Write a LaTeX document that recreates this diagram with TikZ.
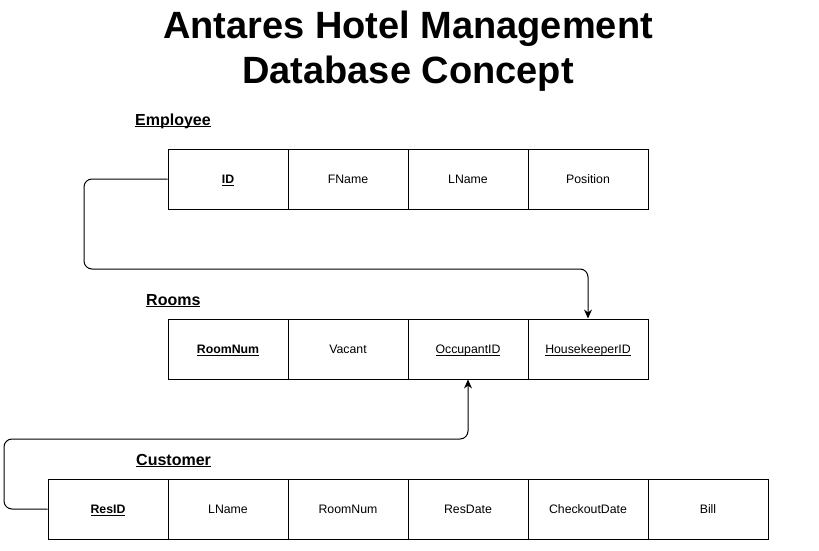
\documentclass[tikz,border=0pt]{standalone}
\usepackage{fontspec}
\setmainfont{Liberation Sans}
\usetikzlibrary{arrows.meta}

% underline that keeps the text on its baseline
\newcommand{\ulined}[1]{\smash{\underline{\smash{#1}}}\vphantom{#1}}

\tikzset{
  field/.style={draw, line width=1pt, minimum width=120pt, minimum height=60pt,
    inner sep=0pt, text height=10pt, text depth=1pt, font=\fontsize{12.3}{14}\selectfont},
  tablename/.style={anchor=base west, inner sep=0pt, font=\fontsize{16}{19}\selectfont\bfseries},
  link/.style={line width=1pt, rounded corners=8pt, -{Stealth[length=9pt,width=8pt]}}
}

\begin{document}
\begin{tikzpicture}[x=1pt, y=-1pt]

\useasboundingbox (0,0) rectangle (819,551);

\node [align=center, font=\fontsize{38}{45}\selectfont\bfseries] (title) at (408,51)
  {Antares Hotel Management\\Database Concept};

% Employee
\node [tablename] (employee) at (135,125) {\ulined{Employee}};
\node [field] (empid) at (228,179) {\textbf{\ulined{ID}}};
\node [field] (empfname) at (348,179) {FName};
\node [field] (emplname) at (468,179) {LName};
\node [field] (emppos) at (588,179) {Position};

% Rooms
\node [tablename] (rooms) at (146,305) {\ulined{Rooms}};
\node [field] (roomnum) at (228,349) {\textbf{\ulined{RoomNum}}};
\node [field] (roomvac) at (348,349) {Vacant};
\node [field] (roomocc) at (468,349) {\ulined{OccupantID}};
\node [field] (roomhk) at (588,349) {\ulined{HousekeeperID}};

% Customer
\node [tablename] (customer) at (136,465) {\ulined{Customer}};
\node [field] (custid) at (108,509) {\textbf{\ulined{ResID}}};
\node [field] (custlname) at (228,509) {LName};
\node [field] (custroom) at (348,509) {RoomNum};
\node [field] (custres) at (468,509) {ResDate};
\node [field] (custout) at (588,509) {CheckoutDate};
\node [field] (custbill) at (708,509) {Bill};

% keys
\coordinate (bendA) at (84,269);
\coordinate (bendB) at (4,439);

\draw [link] (empid.west) -| (bendA) -| (roomhk.north);
\draw [link] (custid.west) -| (bendB) -| (roomocc.south);

\end{tikzpicture}
\end{document}
